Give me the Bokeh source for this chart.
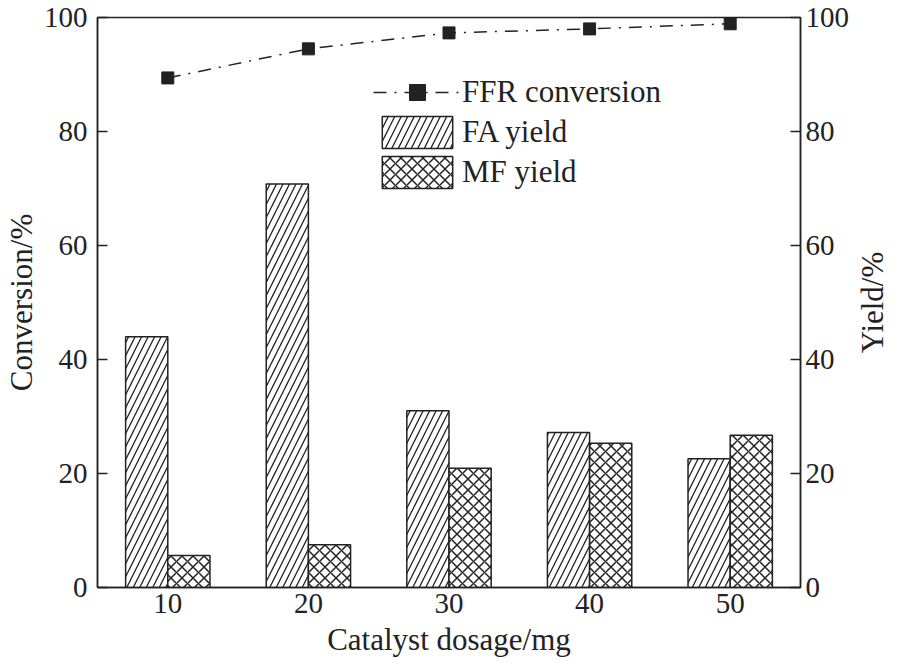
from bokeh.plotting import figure
from bokeh.layouts import row
from bokeh.models import FactorRange, Range1d, LinearAxis, FixedTicker, ColumnDataSource, Legend, LegendItem
from bokeh.transform import dodge
from bokeh.embed import file_html
from bokeh.resources import INLINE

dosage = ["10", "20", "30", "40", "50"]
ffr_conversion = [89.4, 94.5, 97.3, 98.0, 98.9]
fa_yield = [44.0, 70.8, 31.0, 27.2, 22.6]
mf_yield = [5.6, 7.5, 20.9, 25.3, 26.7]
y_ticks = [0, 20, 40, 60, 80, 100]

FONT = "Liberation Serif"
TICK_FS = "29px"
LABEL_FS = "31px"
INK = "#222222"
H = 664
TOP = 17
BOTTOM = 77

src = ColumnDataSource(dict(x=dosage, ffr=ffr_conversion, fa=fa_yield, mf=mf_yield))

p = figure(width=852, height=H, x_range=FactorRange(*dosage, range_padding=0),
           y_range=Range1d(0, 100), output_backend="svg", toolbar_location=None,
           min_border_left=88, min_border_right=40, min_border_top=TOP, min_border_bottom=BOTTOM)
p.grid.visible = False
p.outline_line_color = INK
p.outline_line_width = 1.5
p.background_fill_color = "white"
p.border_fill_color = "white"

fa = p.vbar(x=dodge("x", -0.15, range=p.x_range), top="fa", width=0.3, source=src,
            fill_color="white", line_color=INK, line_width=1.5,
            hatch_pattern="/", hatch_color=INK, hatch_scale=13, hatch_weight=1.3)
mf = p.vbar(x=dodge("x", 0.15, range=p.x_range), top="mf", width=0.3, source=src,
            fill_color="white", line_color=INK, line_width=1.5,
            hatch_pattern="x", hatch_color=INK, hatch_scale=11, hatch_weight=1.5)
ln = p.line(x="x", y="ffr", source=src, line_color=INK, line_width=1.5, line_dash="13 8 2 8")
mk = p.scatter(x="x", y="ffr", source=src, marker="square", size=12, fill_color=INK, line_color=INK)

# axes
xa = p.xaxis[0]
xa.axis_label = "Catalyst dosage/mg"
xa.major_tick_line_color = None
xa.minor_tick_line_color = None
xa.axis_line_width = 1.5
xa.major_label_standoff = 0
xa.axis_label_standoff = 6

ya = p.yaxis[0]
ya.axis_label = "Conversion/%"
ya.ticker = FixedTicker(ticks=y_ticks)
ya.major_tick_in = 10
ya.major_tick_out = 0
ya.minor_tick_line_color = None
ya.axis_line_width = 1.5
ya.major_tick_line_width = 1.5
ya.major_label_standoff = 10
ya.axis_label_standoff = 2

yr = LinearAxis(ticker=FixedTicker(ticks=y_ticks))
yr.major_tick_in = 10
yr.major_tick_out = 0
yr.minor_tick_line_color = None
yr.axis_line_width = 1.5
yr.major_tick_line_width = 1.5
yr.major_label_standoff = 5
p.add_layout(yr, "right")

for ax in [xa, ya, yr]:
    ax.major_label_text_font = FONT
    ax.major_label_text_font_size = TICK_FS
    ax.major_label_text_color = INK
    ax.axis_label_text_font = FONT
    ax.axis_label_text_font_size = LABEL_FS
    ax.axis_label_text_font_style = "normal"
    ax.axis_label_text_color = INK
    ax.axis_line_color = INK
ya.major_tick_line_color = INK
yr.major_tick_line_color = INK

legend = Legend(items=[
    LegendItem(label="FFR conversion", renderers=[ln, mk]),
    LegendItem(label="FA yield", renderers=[fa]),
    LegendItem(label="MF yield", renderers=[mf]),
], location=(276, 395))
legend.label_text_font = FONT
legend.label_text_font_size = LABEL_FS
legend.label_text_color = INK
legend.glyph_width = 88
legend.glyph_height = 40
legend.spacing = 0
legend.label_standoff = 1
legend.border_line_color = None
legend.background_fill_alpha = 0
legend.padding = 0
legend.margin = 0
p.add_layout(legend, "center")

# narrow companion panel carrying the right-hand axis title (reads bottom-to-top)
p2 = figure(width=37, height=H, x_range=Range1d(0, 1), y_range=p.y_range,
            output_backend="svg", toolbar_location=None,
            min_border_left=0, min_border_right=0, min_border_top=TOP, min_border_bottom=BOTTOM)
p2.xaxis.visible = False
p2.grid.visible = False
p2.outline_line_color = None
p2.border_fill_color = "white"
a2 = p2.yaxis[0]
a2.ticker = FixedTicker(ticks=[])
a2.axis_line_color = None
a2.major_tick_line_color = None
a2.minor_tick_line_color = None
a2.axis_label = "Yield/%"
a2.axis_label_standoff = 0
a2.axis_label_text_font = FONT
a2.axis_label_text_font_size = LABEL_FS
a2.axis_label_text_font_style = "normal"
a2.axis_label_text_color = INK

layout = row(p, p2, spacing=0)
open("out.html", "w").write(file_html(layout, INLINE))
